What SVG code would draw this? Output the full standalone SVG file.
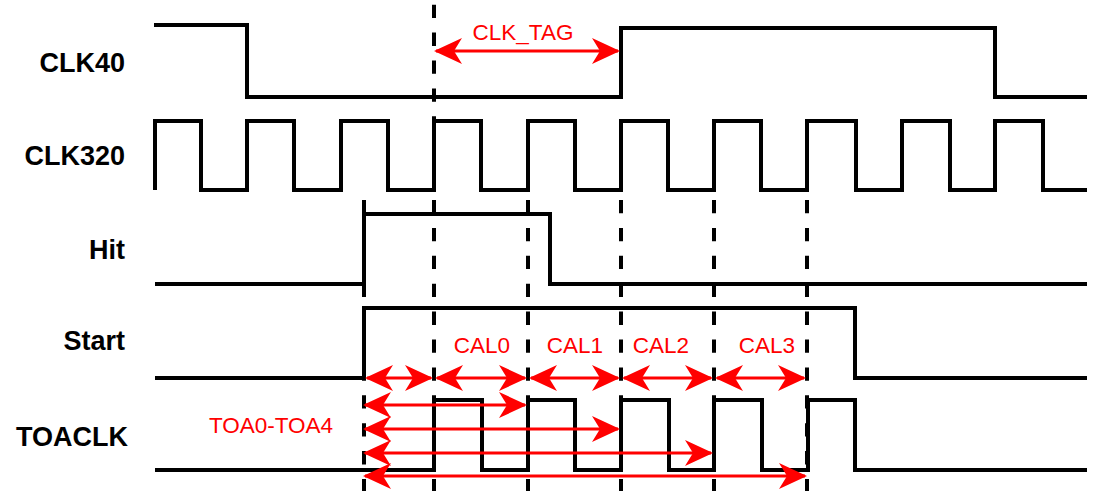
<svg xmlns="http://www.w3.org/2000/svg" width="1101" height="491" viewBox="0 0 1101 491">
<style>
.wave{fill:none;stroke:#000;stroke-width:4;stroke-linejoin:miter}
.dash{fill:none;stroke:#000;stroke-width:4;stroke-dasharray:13.3 14.6}
.arr{fill:none;stroke:#f00;stroke-width:3;marker-start:url(#ah);marker-end:url(#ah)}
.lbl{font-family:"Liberation Sans",Arial,sans-serif;font-weight:bold;font-size:27px;fill:#000;text-anchor:end}
.rl{font-family:"Liberation Sans",Arial,sans-serif;font-size:22.5px;fill:#f00;text-anchor:middle}
</style>
<defs>
<marker id="ah" markerUnits="strokeWidth" viewBox="-30 -15 33 30" refX="0" refY="0" markerWidth="11" markerHeight="10" orient="auto-start-reverse" overflow="visible">
<path d="M2,0 L-26,-13 L-18,0 L-26,13 Z" fill="#f00"/>
</marker>
</defs>
<rect width="1101" height="491" fill="#fff"/>
<g id="labels">
<text class="lbl" x="125" y="72">CLK40</text>
<text class="lbl" x="125" y="165">CLK320</text>
<text class="lbl" x="125" y="259">Hit</text>
<text class="lbl" x="125" y="350">Start</text>
<text class="lbl" x="128" y="446">TOACLK</text>
</g>
<g id="clk40"><path class="wave" d="M154,25 H247 V97 H621 V28 H995 V97 H1087"/></g>
<g id="clk320"><path class="wave" d="M155,190 V121 H201 V190 H247 V121 H294 V190 H341 V121 H388 V190 H434 V121 H481 V190 H528 V121 H575 V190 H621 V121 H668 V190 H714 V121 H761 V190 H807 V121 H856 V190 H902 V121 H950 V190 H995 V121 H1043 V190 H1087"/></g>
<g id="hit"><path class="wave" d="M155,284 H364 V214 H550 V284 H1087"/></g>
<g id="start"><path class="wave" d="M155,378 H364 V308 H855 V378 H1087"/></g>
<g id="toaclk"><path class="wave" d="M155,470 H434 V400 H482 V470 H528 V400 H575 V470 H621 V400 H669 V470 H714 V400 H762 V470 H808 V400 H855 V470 H1087"/></g>
<g id="guides">
<line class="dash" x1="434" y1="4.7" x2="434" y2="491"/>
<line class="dash" x1="364" y1="200" x2="364" y2="491"/>
<line class="dash" x1="528" y1="200" x2="528" y2="491"/>
<line class="dash" x1="621" y1="200" x2="621" y2="491"/>
<line class="dash" x1="714" y1="200" x2="714" y2="491"/>
<line class="dash" x1="807" y1="200" x2="807" y2="491"/>
</g>
<g id="connectors">
<line class="arr" x1="436" y1="51" x2="618" y2="51"/>
<line class="arr" x1="367" y1="378" x2="431" y2="378"/>
<line class="arr" x1="437" y1="378" x2="525" y2="378"/>
<line class="arr" x1="531" y1="378" x2="618" y2="378"/>
<line class="arr" x1="624" y1="378" x2="711" y2="378"/>
<line class="arr" x1="717" y1="378" x2="804" y2="378"/>
<line class="arr" x1="365" y1="405" x2="525" y2="405"/>
<line class="arr" x1="365" y1="429" x2="618" y2="429"/>
<line class="arr" x1="365" y1="453" x2="711" y2="453"/>
<line class="arr" x1="365" y1="476" x2="805" y2="476"/>
</g>
<g id="red-labels">
<text class="rl" x="523" y="40">CLK_TAG</text>
<text class="rl" x="482" y="353">CAL0</text>
<text class="rl" x="575" y="353">CAL1</text>
<text class="rl" x="661" y="353">CAL2</text>
<text class="rl" x="767" y="353">CAL3</text>
<text class="rl" x="271" y="433">TOA0-TOA4</text>
</g>
</svg>
